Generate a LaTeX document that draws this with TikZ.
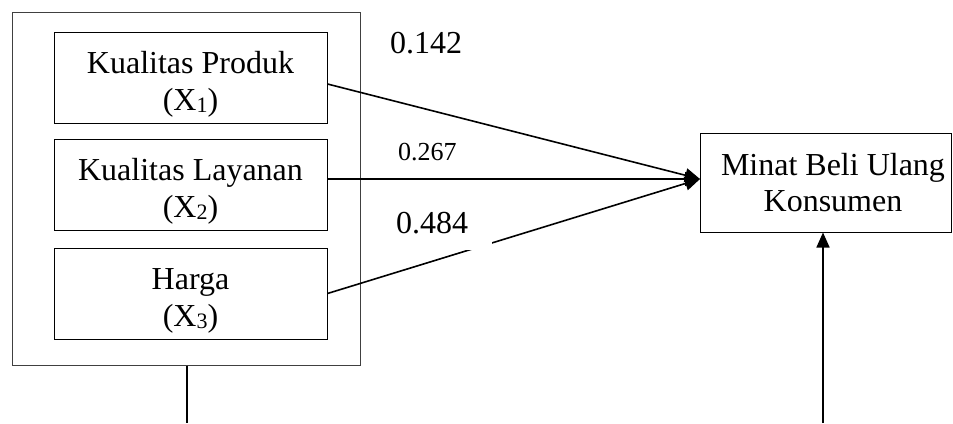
\documentclass[tikz,border=0pt]{standalone}
\usepackage{fontspec}
\setmainfont{Liberation Serif}
\usetikzlibrary{arrows.meta,calc}
\newcommand{\subidx}[1]{\raisebox{-2pt}{\fontsize{22}{22}\selectfont #1}}
\begin{document}
\begin{tikzpicture}[x=1pt,y=-1pt,
  box/.style={draw, line width=1pt, align=center, inner sep=0pt,
    font=\fontsize{32}{37}\selectfont},
  inbox/.style={box, minimum width=273pt, minimum height=91pt},
  txt/.style={align=center, inner sep=0pt, font=\fontsize{32}{37}\selectfont, yshift=-7pt},
  conn/.style={line width=1.6pt},
  arr/.style={conn, -{Triangle[length=15pt,width=14pt]}},
  lab/.style={anchor=base west, inner sep=0pt, font=\fontsize{32}{37}\selectfont},
  labs/.style={anchor=base west, inner sep=0pt, font=\fontsize{26}{30}\selectfont}]
\useasboundingbox (0,0) rectangle (953,423);
\node[box, draw=black!75, minimum width=348pt, minimum height=353pt] (outer) at (186,188.5) {};
\node[inbox, label={[txt]center:Kualitas Produk\\(X\subidx{1})}] (b1) at (190.5,77.5) {};
\node[inbox, label={[txt]center:Kualitas Layanan\\(X\subidx{2})}] (b2) at (190.5,184.5) {};
\node[inbox, label={[txt]center:Harga\\(X\subidx{3})}] (b3) at (190.5,293.5) {};
\node[box, minimum width=251pt, minimum height=99pt, font=\fontsize{32}{36}\selectfont] (m) at (826,182.5) {\hspace*{14pt}Minat Beli Ulang\\\hspace*{14pt}Konsumen};
\coordinate (tip) at (700,179);
\coordinate (bl) at (187,423);
\coordinate (br) at (823,423);
\draw[arr] ([yshift=-6.5pt]b1.east) -- (tip);
\draw[arr] ([yshift=5.5pt]b2.east) -- (tip);
\draw[arr] (b3.east) -- (tip);
\draw[conn] (outer.south -| bl) -- (bl);
\draw[conn, -{Triangle[length=15pt,width=13pt]}] (br) -- (br |- m.south);
\node[lab] (l1) at (390,53) {0.142};
\node[labs] (l2) at (398,160) {0.267};
\node[lab, fill=white, text width=96pt, text depth=17pt, align=left] (l3) at (396,233) {0.484};
\end{tikzpicture}
\end{document}
